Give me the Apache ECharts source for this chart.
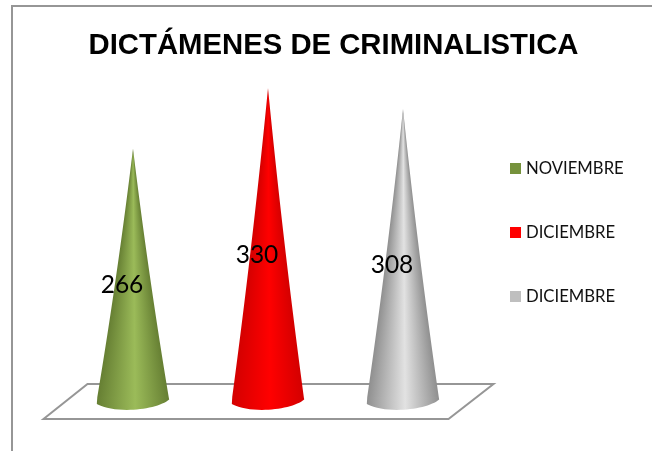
<!DOCTYPE html>
<html>
<head>
<meta charset="utf-8">
<script src="https://cdn.jsdelivr.net/npm/echarts@6/dist/echarts.min.js"></script>
<style>
html,body{margin:0;padding:0;background:#fff;}
#main{width:652px;height:451px;}
</style>
</head>
<body>
<div id="main"></div>
<script>
var categories = ['a', 'b', 'c'];
var seriesNames = ['NOVIEMBRE', 'DICIEMBRE', 'DICIEMBRE'];
var seriesValues = [266, 330, 308];
var baseColors = ['#76923c', '#ff0000', '#bfbfbf'];
var edgeColors = ['#667f33', '#d40000', '#8f8f8f'];
var midColors = ['#9bbb59', '#ff0000', '#e2e2e2'];
var legendTops = [160, 224, 288];

var chart = echarts.init(document.getElementById('main'));

function shade(idx) {
    return new echarts.graphic.LinearGradient(0, 0, 1, 0, [
        {offset: 0, color: edgeColors[idx]},
        {offset: 0.53, color: midColors[idx]},
        {offset: 1, color: edgeColors[idx]}
    ]);
}

// cone for one value, base and tip come from the axes
// drawn one pixel row at a time so the shading narrows towards the tip
function coneItem(idx) {
    return function (params, api) {
        var tip = api.coord([idx, seriesValues[idx]]);
        var base = api.coord([idx, 0]);
        var half = api.size([1, 0])[0] * 0.268;
        var x = base[0], y = base[1], h = y - tip[1];
        var children = [];
        var top = Math.round(tip[1]);
        var foot = Math.round(y) - 3;
        function halfAt(py) {
            var s = (py - tip[1]) / h;
            return half * (0.84 * s * (1 - s) + s * s);
        }
        for (var py = top; py < foot; py++) {
            var w = halfAt(py + 0.5);
            children.push({
                type: 'rect',
                shape: {x: x - w, y: py, width: 2 * w, height: 1},
                style: {fill: shade(idx)}
            });
        }
        // rounded foot of the cone
        var fw = halfAt(foot);
        children.push({
            type: 'path',
            shape: {pathData: 'M' + (x - fw) + ' ' + foot + 'L' + (x + fw) + ' ' + foot +
                'L' + (x + half) + ' ' + (y - 0.5) +
                'C' + (x + half * 0.7) + ' ' + (y + 9) + ' ' + (x - half * 0.4) + ' ' + (y + 15) + ' ' + (x - half) + ' ' + (y + 4) + 'Z'},
            style: {fill: shade(idx)}
        });
        children.push({
            type: 'text',
            style: {
                text: String(seriesValues[idx]),
                x: x - 11,
                y: (y + tip[1]) / 2 + 11,
                align: 'center',
                verticalAlign: 'middle',
                fontFamily: 'Lato',
                fontSize: 24.5,
                fill: '#000'
            }
        });
        return {type: 'group', children: children};
    };
}

// floor plate under the cones
function floorItem(params, api) {
    var c = params.coordSys;
    var y = c.y + c.height;
    var left = c.x;
    return {
        type: 'polygon',
        shape: {points: [
            [left - 22, y + 19],
            [left + 22, y - 16],
            [left + 428, y - 16],
            [left + 383, y + 19]
        ]},
        style: {fill: 'none', stroke: '#969696', lineWidth: 2}
    };
}

var series = [{
    type: 'custom',
    silent: true,
    renderItem: floorItem,
    data: [0],
    z: 1
}];
seriesNames.forEach(function (name, i) {
    series.push({
        name: name,
        type: 'custom',
        renderItem: coneItem(i),
        data: [[i, seriesValues[i]]],
        itemStyle: {color: baseColors[i]},
        z: 2
    });
});

var legends = seriesNames.map(function (name, i) {
    return {
        left: 510,
        top: legendTops[i],
        orient: 'vertical',
        selectedMode: false,
        itemWidth: 11,
        itemHeight: 11,
        itemGap: 0,
        padding: 0,
        textStyle: {fontFamily: 'Lato', fontSize: 16.7, color: '#111', padding: [0, 0, 0, 0]},
        data: [{name: name, icon: 'rect', itemStyle: {color: baseColors[i]}}]
    };
});

chart.setOption({
    animation: false,
    backgroundColor: '#fff',
    title: {
        text: 'DICTÁMENES DE CRIMINALISTICA',
        left: 333.5,
        top: 31,
        padding: 0,
        textAlign: 'center',
        textStyle: {fontFamily: 'Liberation Sans', fontWeight: 'bold', fontSize: 29.3, color: '#000'}
    },
    legend: legends,
    grid: {left: 65.5, top: 69.25, width: 405, height: 330.75},
    xAxis: {type: 'category', data: categories, show: false},
    yAxis: {type: 'value', min: 0, max: 350, show: false},
    series: series,
    graphic: [{
        type: 'polyline',
        silent: true,
        z: -1,
        shape: {points: [[12, 451], [12, 6], [652, 6]]},
        style: {fill: 'none', stroke: '#969696', lineWidth: 2}
    }]
});
</script>
</body>
</html>
